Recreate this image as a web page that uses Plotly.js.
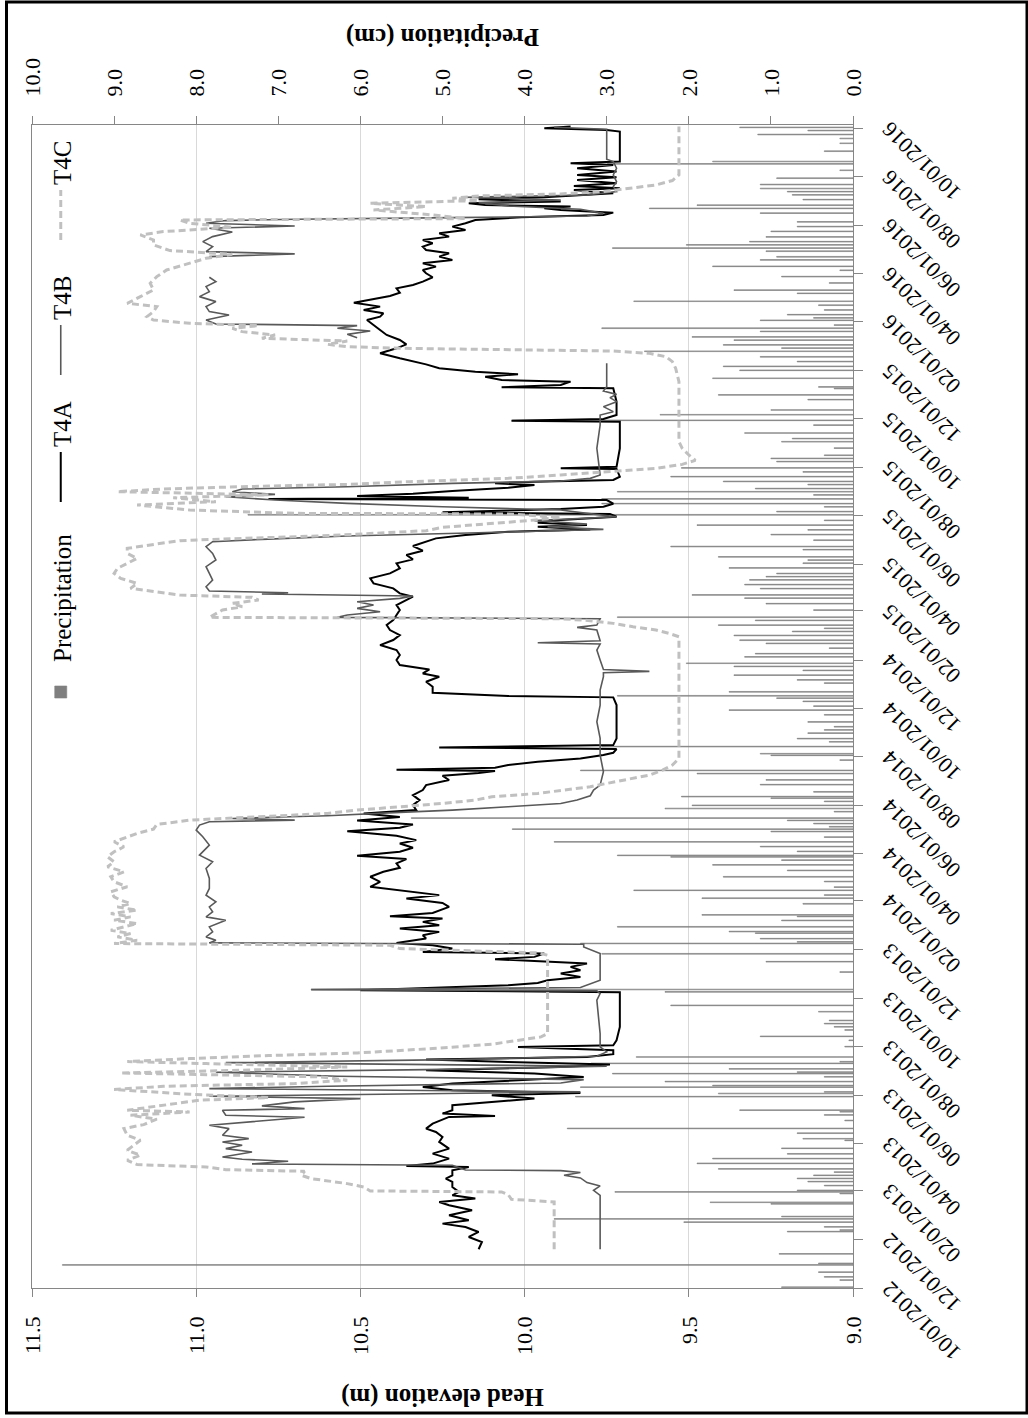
<!DOCTYPE html>
<html>
<head>
<meta charset="utf-8">
<script src="https://cdn.plot.ly/plotly-3.0.1.min.js"></script>
<style>
  html, body { margin:0; padding:0; background:#ffffff; width:1028px; height:1418px; overflow:hidden; }
  #chart { position:absolute; left:0; top:0; width:1418px; height:1028px;
           transform-origin:0 0; transform:translate(0px,1418px) rotate(-90deg); }
</style>
</head>
<body>
<div id="chart"></div>
<script>
// Readings.
// First value of each pair: days after 10/01/2012; second value: head elevation (m) or precipitation (cm).
const startDate = '2012-10-01';

const t4aReadings = [
 [48.8,10.14],[58.0,10.13],[64.3,10.17],[70.6,10.14],[76.9,10.18],[81.1,10.25],[85.3,10.17],[91.6,10.23],
 [97.9,10.16],[104.2,10.23],[108.4,10.26],[112.6,10.15],[116.8,10.22],[121.0,10.20],[127.3,10.22],[133.6,10.22],
 [137.8,10.24],[142.0,10.22],[148.3,10.22],[152.5,10.17],[153.8,10.36],[156.7,10.28],[163.0,10.23],[169.3,10.28],
 [175.6,10.23],[184.0,10.26],[190.3,10.25],[196.6,10.27],[200.8,10.30],[207.1,10.28],[215.5,10.23],[216.8,10.09],
 [219.7,10.25],[223.9,10.22],[230.2,10.22],[234.4,10.10],[238.6,9.97],[242.8,10.10],[245.7,9.83],[249.1,10.22],
 [253.3,10.31],[257.5,10.22],[261.7,10.01],[265.9,9.82],[270.1,9.97],[274.3,10.30],[278.5,9.89],[281.4,9.74],
 [284.8,10.05],[287.7,10.30],[291.1,9.81],[294.5,9.73],[299.5,9.73],[303.7,10.02],[305.8,9.73],[312.1,9.72],
 [328.9,9.71],[349.9,9.71],[366.7,9.71],[372.6,9.71],[375.1,10.50],[378.5,10.22],[381.4,10.05],[384.3,9.96],
 [387.7,9.93],[391.9,9.83],[396.1,9.89],[400.3,9.83],[404.5,9.86],[408.7,9.81],[412.1,9.99],[414.2,10.09],
 [417.1,9.97],[421.3,9.94],[423.4,10.31],[427.6,10.22],[431.8,10.28],[434.7,10.39],[440.2,10.30],[444.4,10.31],
 [448.6,10.26],[452.8,10.38],[457.0,10.26],[461.2,10.31],[465.4,10.25],[468.3,10.41],[472.5,10.28],[480.1,10.23],
 [485.1,10.25],[490.7,10.36],[494.9,10.26],[501.2,10.38],[505.4,10.47],[511.7,10.44],[518.0,10.47],[524.3,10.43],
 [529.3,10.38],[534.8,10.39],[540.3,10.36],[544.5,10.51],[549.5,10.38],[554.5,10.34],[560.0,10.38],[564.2,10.33],
 [569.7,10.39],[575.5,10.54],[579.7,10.38],[583.9,10.34],[589.0,10.51],[593.2,10.38],[597.8,10.49],[602.0,10.33],
 [608.3,10.34],[614.6,10.32],[620.9,10.34],[627.2,10.31],[633.5,10.30],[639.8,10.23],[645.3,10.25],[648.6,10.14],
 [651.1,10.09],[652.8,10.39],[655.3,10.09],[658.7,10.05],[662.9,9.96],[667.1,9.83],[671.3,9.76],[674.2,9.73],
 [678.9,9.72],[681.0,10.26],[683.9,9.73],[692.3,9.72],[713.3,9.72],[734.3,9.72],[744.0,9.73],[745.6,10.05],
 [749.8,10.28],[757.4,10.28],[763.7,10.30],[770.0,10.26],[774.2,10.31],[779.2,10.29],[784.7,10.38],[791.0,10.39],
 [797.3,10.38],[803.6,10.39],[809.9,10.44],[816.2,10.40],[822.5,10.38],[828.8,10.41],[835.1,10.42],[841.4,10.40],
 [847.7,10.39],[854.0,10.38],[860.3,10.39],[866.6,10.36],[870.8,10.34],[875.0,10.38],[881.3,10.40],[887.6,10.46],
 [893.9,10.47],[900.2,10.41],[906.5,10.38],[912.8,10.39],[917.8,10.34],[923.3,10.36],[928.8,10.31],[934.6,10.34],
 [940.1,10.30],[944.3,10.27],[948.5,10.18],[952.7,10.05],[955.6,9.80],[959.0,9.96],[961.1,9.81],[964.0,9.96],
 [967.4,9.89],[971.6,9.72],[975.0,9.74],[977.1,10.25],[981.3,9.89],[984.2,9.76],[988.0,9.73],[992.6,9.75],
 [993.9,10.78],[995.5,10.17],[997.6,10.51],[1000.6,10.34],[1004.0,10.22],[1008.1,10.05],[1011.5,9.97],[1013.6,10.09],
 [1015.7,9.97],[1017.8,9.73],[1022.0,9.71],[1031.7,9.72],[1032.5,9.89],[1034.6,9.72],[1057.7,9.71],[1087.1,9.71],
 [1091.3,9.71],[1092.6,10.04],[1094.7,9.76],[1099.7,9.72],[1116.5,9.72],[1133.3,9.73],[1134.6,10.07],[1137.5,9.89],
 [1141.7,9.86],[1143.8,10.07],[1148.0,10.12],[1151.0,10.02],[1154.3,10.15],[1158.5,10.26],[1163.5,10.30],[1171.1,10.38],
 [1177.4,10.44],[1183.7,10.39],[1188.7,10.36],[1194.2,10.38],[1200.5,10.42],[1206.8,10.44],[1213.1,10.46],[1219.4,10.48],
 [1223.6,10.44],[1227.8,10.43],[1232.0,10.49],[1236.2,10.44],[1241.2,10.52],[1245.4,10.47],[1249.6,10.41],[1253.8,10.38],
 [1259.3,10.39],[1263.5,10.34],[1267.7,10.31],[1273.2,10.28],[1278.2,10.30],[1282.4,10.31],[1286.6,10.27],[1290.8,10.31],
 [1295.0,10.22],[1299.2,10.26],[1303.4,10.23],[1307.6,10.30],[1311.8,10.31],[1316.0,10.28],[1320.2,10.31],[1324.4,10.23],
 [1328.6,10.26],[1332.8,10.18],[1337.0,10.22],[1341.2,10.18],[1345.4,10.15],[1348.8,10.01],[1351.7,9.76],[1354.6,9.73],
 [1358.0,9.89],[1360.1,9.94],[1362.2,9.86],[1364.3,10.12],[1366.4,10.17],[1368.5,9.89],[1371.4,10.14],[1374.0,9.94],
 [1376.9,9.80],[1379.0,9.73],[1383.2,9.85],[1385.3,9.71],[1388.2,9.85],[1391.6,9.72],[1395.8,9.84],[1399.2,9.72],
 [1402.1,9.84],[1406.3,9.72],[1410.5,9.84],[1414.7,9.73],[1416.8,9.86],[1418.9,9.71],[1437.8,9.71],[1456.7,9.71],
 [1458.8,9.75],[1460.9,9.94],[1463.0,9.86]
];

const t4bReadings = [
 [48.8,9.77],[116.8,9.77],[123.1,9.79],[128.6,9.77],[132.8,9.81],[138.6,9.83],[142.0,9.88],[145.4,9.83],
 [147.9,9.89],[148.7,10.18],[154.6,10.22],[156.3,10.83],[159.6,10.72],[162.2,10.86],[165.1,10.92],[171.4,10.83],
 [175.6,10.91],[179.8,10.86],[184.0,10.92],[188.2,10.84],[192.4,10.92],[200.8,10.90],[205.0,10.96],[210.0,10.81],
 [215.1,10.67],[217.6,10.91],[223.9,10.92],[226.0,10.67],[229.4,10.80],[234.4,10.70],[238.6,10.50],[241.5,10.96],
 [244.9,10.22],[247.0,9.83],[251.2,10.96],[254.1,10.60],[258.3,9.89],[262.5,9.82],[266.7,10.57],[271.8,10.94],
 [275.1,10.30],[279.3,9.75],[283.9,10.91],[287.7,10.22],[291.9,9.78],[297.4,9.75],[303.7,9.77],[320.5,9.77],
 [362.5,9.78],[370.9,9.77],[374.3,9.78],[375.9,10.65],[378.5,9.83],[387.7,9.77],[404.5,9.77],[421.3,9.77],
 [429.7,9.82],[433.1,9.82],[434.7,10.96],[438.1,10.94],[442.3,10.97],[448.6,10.95],[454.9,10.96],[463.3,10.91],
 [467.5,10.97],[473.8,10.95],[480.1,10.96],[486.4,10.94],[494.9,10.97],[503.3,10.96],[515.9,10.96],[528.5,10.97],
 [536.9,10.95],[545.3,10.99],[557.9,10.96],[568.4,10.98],[576.8,11.00],[583.1,10.99],[587.3,10.96],[589.4,10.70],
 [591.5,10.89],[594.9,10.60],[599.1,10.38],[602.0,10.22],[606.2,10.05],[610.4,9.89],[614.6,9.84],[620.1,9.80],
 [627.2,9.79],[633.5,9.77],[650.3,9.76],[671.3,9.77],[692.3,9.77],[713.3,9.78],[734.3,9.77],[753.2,9.77],
 [770.0,9.76],[775.0,9.76],[776.7,9.62],[779.2,9.76],[791.0,9.77],[803.6,9.78],[811.2,9.77],[812.8,9.96],
 [815.4,9.77],[828.8,9.78],[832.2,9.84],[835.1,9.78],[843.1,9.77],[844.8,10.57],[847.7,10.54],[851.9,10.44],
 [856.1,10.51],[860.3,10.46],[864.5,10.51],[868.7,10.38],[871.6,10.34],[874.2,10.80],[875.8,10.72],[877.9,10.96],
 [883.4,10.97],[891.8,10.95],[900.2,10.96],[908.6,10.97],[917.0,10.94],[925.4,10.95],[933.8,10.97],[940.1,10.95],
 [943.0,10.80],[947.2,10.54],[951.4,10.14],[955.6,9.76],[959.0,9.93],[962.4,9.81],[966.6,9.97],[971.6,9.72],
 [975.8,9.81],[980.0,9.89],[984.2,10.25],[988.4,10.54],[992.6,10.76],[996.8,10.91],[999.7,10.76],[1003.1,10.89],
 [1006.5,10.86],[1009.4,10.54],[1013.6,10.22],[1016.5,9.89],[1019.9,9.80],[1024.1,9.77],[1057.7,9.78],[1087.1,9.77],
 [1099.7,9.77],[1103.9,9.73],[1110.2,9.76],[1116.5,9.72],[1121.5,9.74],[1125.7,9.72],[1129.9,9.76],[1135.4,9.75],
 [1150.1,9.75],[1164.8,9.75],[1180.0,null],[1197.1,10.51],[1201.3,10.54],[1205.5,10.47],[1208.9,10.57],[1212.3,10.51],
 [1214.4,10.94],[1219.4,10.97],[1225.7,10.90],[1229.9,10.96],[1236.2,10.97],[1242.5,10.94],[1248.8,10.99],[1255.1,10.96],
 [1261.4,10.97],[1267.7,10.94],[1273.2,10.96],[1286.0,null],[1299.2,10.96],[1302.6,10.70],[1305.5,10.97],[1311.8,10.95],
 [1318.1,10.98],[1324.4,10.95],[1330.3,10.89],[1334.9,10.96],[1337.8,10.70],[1341.2,10.97],[1344.6,10.91],[1346.2,10.70],
 [1348.3,10.22],[1350.4,9.81],[1353.8,9.76],[1358.8,9.83],[1363.0,10.05],[1367.2,10.14],[1370.6,9.89],[1374.0,10.18],
 [1376.9,9.81],[1381.1,9.72],[1387.4,9.73],[1393.7,9.72],[1402.1,9.73],[1410.5,9.72],[1418.9,9.73],[1421.8,9.75],
 [1437.8,9.75],[1456.7,9.75],[1459.6,9.75],[1462.2,9.91]
];

const t4cReadings = [
 [48.8,9.91],[108.4,9.91],[111.8,10.04],[117.6,10.05],[121.0,10.07],[122.3,10.47],[127.3,10.49],[131.5,10.54],
 [137.8,10.65],[142.0,10.68],[147.0,10.67],[149.1,10.91],[152.5,10.97],[155.4,11.18],[160.9,11.21],[167.2,11.17],
 [173.5,11.21],[179.8,11.19],[186.1,11.17],[192.4,11.21],[200.8,11.22],[205.8,11.16],[212.6,11.12],[217.6,11.20],
 [221.8,11.02],[223.9,11.21],[230.2,11.10],[236.5,10.99],[239.9,10.78],[244.1,11.02],[250.0,11.25],[254.1,11.10],
 [257.5,10.70],[261.7,10.54],[265.9,10.62],[270.9,11.23],[274.3,10.86],[278.5,10.54],[282.7,10.97],[285.2,11.21],
 [289.0,11.02],[292.8,10.78],[296.1,10.51],[301.6,10.28],[307.1,10.10],[312.1,10.01],[316.3,9.95],[320.5,9.93],
 [362.5,9.93],[404.5,9.93],[419.2,9.93],[422.1,9.96],[425.5,10.22],[427.6,10.38],[431.8,10.41],[433.9,11.25],
 [438.1,11.18],[442.3,11.24],[446.5,11.20],[450.7,11.26],[454.9,11.22],[459.1,11.18],[463.3,11.25],[467.5,11.20],
 [471.7,11.26],[475.9,11.18],[480.1,11.24],[484.3,11.20],[488.5,11.23],[492.8,11.25],[499.1,11.26],[505.4,11.21],
 [511.7,11.25],[518.0,11.26],[524.3,11.22],[530.6,11.27],[536.9,11.25],[543.2,11.27],[549.5,11.25],[555.8,11.22],
 [562.1,11.25],[568.4,11.21],[572.6,11.18],[578.1,11.13],[583.9,11.12],[589.4,11.02],[593.6,10.83],[597.8,10.60],
 [602.0,10.51],[606.2,10.38],[610.4,10.25],[614.6,10.15],[618.8,10.10],[623.0,9.96],[627.2,9.88],[631.4,9.80],
 [635.6,9.75],[639.8,9.70],[646.1,9.62],[652.4,9.58],[658.7,9.55],[667.1,9.53],[734.3,9.53],[820.4,9.53],
 [824.6,9.56],[828.8,9.60],[833.0,9.67],[837.2,9.73],[840.6,9.80],[843.1,9.89],[844.8,10.96],[848.9,10.94],
 [854.0,10.92],[858.2,10.86],[862.4,10.89],[866.6,10.81],[870.0,10.83],[872.9,11.05],[877.1,11.12],[881.3,11.20],
 [887.6,11.18],[893.9,11.23],[900.2,11.25],[906.5,11.24],[912.8,11.21],[919.1,11.18],[925.4,11.21],[931.7,11.21],
 [937.2,11.12],[941.4,11.05],[944.3,10.86],[947.2,10.63],[950.6,10.46],[954.0,10.30],[958.2,10.25],[962.4,10.12],
 [966.6,9.99],[970.8,9.89],[975.0,10.05],[975.8,10.70],[980.0,11.02],[986.3,11.18],[990.5,10.94],[995.5,11.07],
 [999.1,10.78],[1003.1,11.24],[1006.5,11.10],[1009.4,10.86],[1012.3,10.54],[1015.7,10.35],[1019.9,10.05],[1024.1,9.89],
 [1028.3,9.73],[1032.5,9.60],[1037.5,9.52],[1042.6,9.48],[1049.3,9.50],[1057.7,9.52],[1066.1,9.53],[1141.7,9.53],
 [1158.5,9.54],[1166.9,9.55],[1173.2,9.57],[1177.4,9.62],[1180.3,9.73],[1182.0,10.12],[1183.7,10.38],[1185.8,10.54],
 [1188.7,10.60],[1192.9,10.54],[1196.3,10.80],[1200.5,10.76],[1204.7,10.86],[1208.9,10.89],[1212.3,10.81],[1215.2,11.02],
 [1219.4,11.13],[1223.6,11.15],[1229.9,11.13],[1236.2,11.12],[1240.4,11.21],[1248.8,11.17],[1257.2,11.13],[1265.6,11.14],
 [1274.0,11.12],[1282.4,11.09],[1290.8,11.02],[1297.1,10.97],[1302.1,10.89],[1306.8,11.08],[1313.9,11.13],[1320.2,11.13],
 [1326.5,11.17],[1330.7,11.10],[1336.2,10.89],[1341.2,11.02],[1345.4,11.05],[1347.1,10.18],[1351.7,10.28],[1358.0,10.46],
 [1362.2,10.30],[1366.4,10.47],[1369.8,10.14],[1372.7,10.22],[1375.6,10.14],[1378.2,9.89],[1381.1,9.76],[1385.3,9.68],
 [1389.5,9.60],[1395.0,9.55],[1402.1,9.53],[1463.0,9.53]
];

const precipReadings = [
 [1,0.87],[10,0.16],[14,0.35],[20,0.42],[29,9.63],[31,0.42],[43,0.90],[71,0.80],[73,0.16],[77,0.35],[83,2.06],
 [87,3.64],[90,0.87],[106,1.00],[108,1.74],[119,0.16],[121,2.90],[123,0.68],[129,0.35],[134,0.55],[138,0.68],
 [142,0.48],[146,0.23],[150,1.64],[157,1.90],[163,1.71],[169,0.80],[176,0.87],[186,0.10],[188,0.61],[195,0.68],
 [201,3.48],[211,0.10],[218,0.35],[222,0.16],[224,1.38],[241,3.38],[245,1.64],[247,0.35],[253,3.32],[255,1.71],
 [260,2.29],[266,0.35],[270,2.93],[272,0.68],[276,1.51],[283,3.19],[285,0.16],[291,2.64],[304,0.10],[312,0.05],
 [317,1.13],[325,0.10],[329,0.23],[333,0.35],[337,0.29],[348,0.42],[356,2.22],[373,2.29],[376,6.60],[398,0.16],
 [411,1.06],[421,3.06],[434,3.32],[436,0.68],[440,1.13],[447,1.19],[449,1.51],[455,2.87],[463,0.87],[468,0.68],
 [470,1.84],[484,0.61],[491,1.84],[495,0.35],[501,2.67],[505,0.23],[512,0.35],[518,1.58],[526,0.80],[533,1.71],
 [539,0.87],[543,2.22],[545,2.87],[550,0.68],[556,1.13],[562,3.64],[568,0.35],[575,1.00],[578,4.15],[581,0.29],
 [585,0.48],[589,0.80],[592,5.38],[600,0.23],[604,2.29],[608,1.96],[613,0.35],[617,1.00],[619,2.09],[625,0.48],
 [634,1.13],[640,1.06],[648,1.90],[652,3.32],[665,0.16],[671,1.00],[673,1.13],[682,3.06],[688,0.29],[692,0.68],
 [699,0.55],[703,0.35],[707,0.23],[713,0.55],[722,0.35],[728,1.51],[733,0.48],[739,0.61],[743,0.93],[746,2.87],
 [751,1.51],[762,0.35],[766,0.68],[772,1.45],[778,0.61],[783,1.45],[787,2.03],[795,1.32],[799,1.19],[806,0.29],
 [812,1.06],[816,1.38],[822,1.45],[827,0.74],[831,0.35],[835,1.64],[841,1.19],[845,2.87],[854,0.48],[862,1.06],
 [869,1.32],[873,1.96],[881,1.13],[886,1.32],[892,1.26],[896,1.06],[900,0.93],[907,1.51],[913,0.61],[917,0.55],
 [921,1.64],[930,0.61],[934,2.22],[942,0.48],[949,1.00],[955,0.55],[961,1.90],[967,0.35],[974,7.37],[978,0.93],
 [984,0.35],[988,3.06],[994,3.06],[999,0.48],[1003,2.87],[1007,1.19],[1012,0.55],[1016,1.58],[1022,2.22],[1028,0.61],
 [1033,2.09],[1041,0.93],[1045,1.00],[1049,0.35],[1058,0.23],[1066,0.87],[1070,0.74],[1077,1.32],[1087,0.48],[1093,4.15],
 [1100,2.35],[1106,1.00],[1119,0.55],[1125,1.64],[1133,0.23],[1135,0.42],[1146,1.71],[1156,1.38],[1161,1.58],[1167,0.68],
 [1173,1.13],[1180,2.54],[1184,0.87],[1188,1.58],[1194,1.45],[1198,1.96],[1205,1.13],[1209,3.06],[1213,0.23],[1219,1.13],
 [1222,0.48],[1226,0.80],[1232,0.35],[1238,0.42],[1243,2.67],[1253,0.68],[1257,1.45],[1266,0.29],[1274,0.87],[1282,0.16],
 [1287,1.71],[1295,1.13],[1299,0.93],[1306,1.06],[1310,2.93],[1314,2.03],[1318,1.26],[1324,1.06],[1331,1.00],[1337,0.68],
 [1343,0.68],[1354,1.13],[1360,2.48],[1364,1.90],[1371,0.61],[1377,0.74],[1381,0.80],[1385,1.13],[1390,1.13],[1398,0.93],
 [1408,0.16],[1416,2.99],[1419,1.71],[1432,0.35],[1442,0.16],[1448,0.16],[1453,1.16],[1458,0.55],[1462,1.38]
];

const seriesNames = ['Precipitation', 'T4A', 'T4B', 'T4C'];
const headTitle = 'Head elevation (m)';
const precipTitle = 'Precipitation (cm)';

// ---- build traces ----
const DAY_MS = 86400000;
const base = Date.parse(startDate + 'T00:00:00Z');
function toDate(d) { return new Date(base + d * DAY_MS).toISOString().slice(0, 19).replace('T', ' '); }
function xs(r) { return r.map(p => toDate(p[0])); }
function ys(r) { return r.map(p => p[1]); }

const FONT = 'Liberation Serif, Times New Roman, serif';

const traces = [
  { type: 'bar', name: seriesNames[0], legend: 'legend', x: xs(precipReadings), y: ys(precipReadings), yaxis: 'y',
    width: DAY_MS * 0.9, marker: { color: '#7f7f7f', line: { color: '#7f7f7f', width: 0.6 } } },
  { type: 'scatter', mode: 'lines', name: seriesNames[1], legend: 'legend2', x: xs(t4aReadings), y: ys(t4aReadings), yaxis: 'y2',
    line: { color: '#000000', width: 2 } },
  { type: 'scatter', mode: 'lines', name: seriesNames[2], legend: 'legend3', x: xs(t4bReadings), y: ys(t4bReadings), yaxis: 'y2',
    connectgaps: false, line: { color: '#595959', width: 1.6 } },
  { type: 'scatter', mode: 'lines', name: seriesNames[3], legend: 'legend4', x: xs(t4cReadings), y: ys(t4cReadings), yaxis: 'y2',
    line: { color: '#c0c0c0', width: 3, dash: '7px,4px' } }
];

const W = 1418, H = 1028, L = 130, R = 125, T = 32, B = 175;
const pw = W - L - R, ph = H - T - B;
const px = u => (u - L) / pw;
const py = v => 1 - (v - T) / ph;

function legendAt(u) {
  return { orientation: 'h', x: px(u), xanchor: 'left', y: py(61), yanchor: 'middle', itemwidth: 50,
           font: { family: FONT, size: 25, color: '#000' }, bgcolor: 'rgba(0,0,0,0)', borderwidth: 0 };
}

const layout = {
  width: W, height: H,
  margin: { l: L, r: R, t: T, b: B },
  paper_bgcolor: '#ffffff', plot_bgcolor: '#ffffff',
  font: { family: FONT, color: '#000000', size: 22 },
  showlegend: true,
  bargap: 0,
  legend: legendAt(696),
  legend2: legendAt(911),
  legend3: legendAt(1038),
  legend4: legendAt(1173),
  xaxis: {
    type: 'date', range: ['2012-10-01', '2016-10-05'],
    tick0: '2012-10-01', dtick: 'M2', tickformat: '%m/%d/%Y', tickangle: -45,
    ticks: 'outside', ticklen: 9, tickwidth: 1, tickcolor: '#868686',
    showline: true, linecolor: '#868686', linewidth: 1, mirror: true,
    showgrid: false, zeroline: false, ticklabelstandoff: 5,
    tickfont: { family: FONT, size: 22, color: '#000' }
  },
  yaxis: {
    side: 'right', range: [0, 10], dtick: 1, tickformat: '.1f',
    ticks: 'outside', ticklen: 8, tickwidth: 1, tickcolor: '#868686',
    showline: true, linecolor: '#868686', linewidth: 1,
    showgrid: false, zeroline: false, ticklabelstandoff: 15,
    tickfont: { family: FONT, size: 22, color: '#000' },
    title: { text: '<b>' + precipTitle + '</b>', font: { family: FONT, size: 25, color: '#000' }, standoff: 12 }
  },
  yaxis2: {
    overlaying: 'y', side: 'left', range: [9, 11.5], dtick: 0.5, tickformat: '.1f',
    ticks: 'outside', ticklen: 8, tickwidth: 1, tickcolor: '#868686',
    showline: true, linecolor: '#868686', linewidth: 1,
    showgrid: true, gridcolor: '#d9d9d9', gridwidth: 1, zeroline: false, ticklabelstandoff: 15,
    tickfont: { family: FONT, size: 22, color: '#000' },
    title: { text: '<b>' + headTitle + '</b>', font: { family: FONT, size: 25, color: '#000' }, standoff: 26 }
  },
  shapes: [
    { type: 'rect', xref: 'paper', yref: 'paper', x0: px(5), x1: px(1416), y0: py(1027), y1: py(6.5),
      line: { color: '#000', width: 3 }, fillcolor: 'rgba(0,0,0,0)', layer: 'above' }
  ]
};

Plotly.newPlot('chart', traces, layout, { staticPlot: true, displayModeBar: false });
</script>
</body>
</html>
